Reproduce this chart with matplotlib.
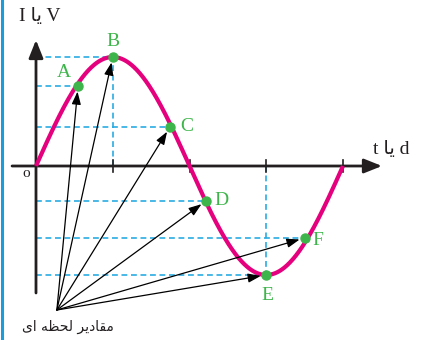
# -*- coding: utf-8 -*-
import numpy as np
import matplotlib.pyplot as plt

# data: one period of the wave (x in periods, amplitude 1)
labels = ['A', 'B', 'C', 'D', 'E', 'F']
phase = [0.137, 0.25, 0.4365, 0.5537, 0.75, 0.876]
value = [0.734, 1.0, 0.358, -0.32, -1.0, -0.66]
ticks = [0.25, 0.5, 0.75, 1.0]
src = (0.068, -1.321)          # common start of the arrows
caption = 'مقادیر لحظه ای'

# tiny persian shaper (matplotlib has no bidi / shaping)
forms = {
    'ا': ('\uFE8D', '\uFE8E', None, None),
    'د': ('\uFEA9', '\uFEAA', None, None),
    'ر': ('\uFEAD', '\uFEAE', None, None),
    'ح': ('\uFEA1', '\uFEA2', '\uFEA3', '\uFEA4'),
    'ظ': ('\uFEC5', '\uFEC6', '\uFEC7', '\uFEC8'),
    'ق': ('\uFED5', '\uFED6', '\uFED7', '\uFED8'),
    'ل': ('\uFEDD', '\uFEDE', '\uFEDF', '\uFEE0'),
    'م': ('\uFEE1', '\uFEE2', '\uFEE3', '\uFEE4'),
    'ه': ('\uFEE9', '\uFEEA', '\uFEEB', '\uFEEC'),
    'ی': ('\uFBFC', '\uFBFD', '\uFBFE', '\uFBFF'),
}

def shape(s):
    out = []
    for i, ch in enumerate(s):
        if ch not in forms:
            out.append(ch)
            continue
        prev = s[i-1] if i > 0 else ' '
        nxt = s[i+1] if i < len(s)-1 else ' '
        jp = prev in forms and forms[prev][2] is not None
        jn = forms[ch][2] is not None and nxt in forms
        f = forms[ch]
        if jp and jn:
            out.append(f[3])
        elif jp:
            out.append(f[1])
        elif jn:
            out.append(f[2])
        else:
            out.append(f[0])
    return ''.join(out[::-1])

ya = shape('یا')

# figure, axes mapped to pixels
W, H = 422, 340
fig = plt.figure(figsize=(W/100, H/100), dpi=100)
ax = fig.add_axes([0, 0, 1, 1])
x0, px = 36, 307.0
y0, py = 166, 109.0
ax.set_xlim(-x0/px, (W-x0)/px)
ax.set_ylim((y0-H)/py, y0/py)
ax.axis('off')

blue = '#29abe2'
pink = '#e5007d'
green = '#3db54a'
dark = '#231f20'
dash = (0, (3.5, 2.2))

# edge line at the left
fig.add_artist(plt.Line2D([0.004, 0.004], [0, 1], color='#1b9ddb', lw=2.2))

# dashed helpers
for p, v in zip(phase, value):
    ax.plot([0, p], [v, v], ls=dash, color=blue, lw=1.2)
ax.plot([phase[1], phase[1]], [0, value[1]], ls=dash, color=blue, lw=1.2)
ax.plot([phase[4], phase[4]], [0, value[4]], ls=dash, color=blue, lw=1.2)

# axes with arrows
ax.annotate('', xy=(1.127, 0), xytext=(-0.078, 0),
            arrowprops=dict(arrowstyle='-|>,head_length=0.6,head_width=0.24',
                            mutation_scale=18, lw=2, color=dark,
                            shrinkA=0, shrinkB=0))
ax.annotate('', xy=(0, 1.156), xytext=(0, -1.165),
            arrowprops=dict(arrowstyle='-|>,head_length=0.6,head_width=0.24',
                            mutation_scale=18, lw=2, color=dark,
                            shrinkA=0, shrinkB=0))
for t in ticks:
    ax.plot([t, t], [-0.055, 0.055], color=dark, lw=1.2)

# the wave
t = np.linspace(0, 1, 400)
ax.plot(t, np.sin(2*np.pi*t), color=pink, lw=3, solid_capstyle='butt', zorder=3)

# arrows to instantaneous values
for p, v in zip(phase, value):
    ax.annotate('', xy=(p, v), xytext=src,
                arrowprops=dict(arrowstyle='-|>,head_length=0.7,head_width=0.25',
                                mutation_scale=11, lw=0.9, color='black',
                                shrinkA=0, shrinkB=4), zorder=4)

ax.plot(phase, value, 'o', color=green, ms=6.5, zorder=5)

# point labels
off = {'A': (-14, 13), 'B': (0, 15), 'C': (17, 0), 'D': (15, 0),
       'E': (1, -21), 'F': (13, -3)}
for lab, p, v in zip(labels, phase, value):
    dx, dy = off[lab]
    ax.annotate(lab, (p, v), xytext=(dx*0.72, dy*0.72), textcoords='offset points',
                ha='center', va='center', color=green, fontsize=14,
                family=['Liberation Serif', 'DejaVu Sans'])

# axis titles and origin
fam = ['Liberation Serif', 'DejaVu Sans']
ax.text(4/px, (y0-17)/py, 'I ' + ya + ' V', ha='center', va='center',
        fontsize=14, color=dark, family=fam)
ax.text((391-x0)/px, (y0-150)/py, 't ' + ya + ' d', ha='center', va='center',
        fontsize=14, color=dark, family=fam)
ax.text(-10/px, (y0-174)/py, 'o', ha='center', va='center', fontsize=11,
        color=dark, family=fam)
ax.text(src[0] + 11/px, src[1] - 17/py, shape(caption), ha='center', va='center',
        fontsize=10, color=dark, family=['DejaVu Sans'])

fig.savefig('out.png', dpi=100)
